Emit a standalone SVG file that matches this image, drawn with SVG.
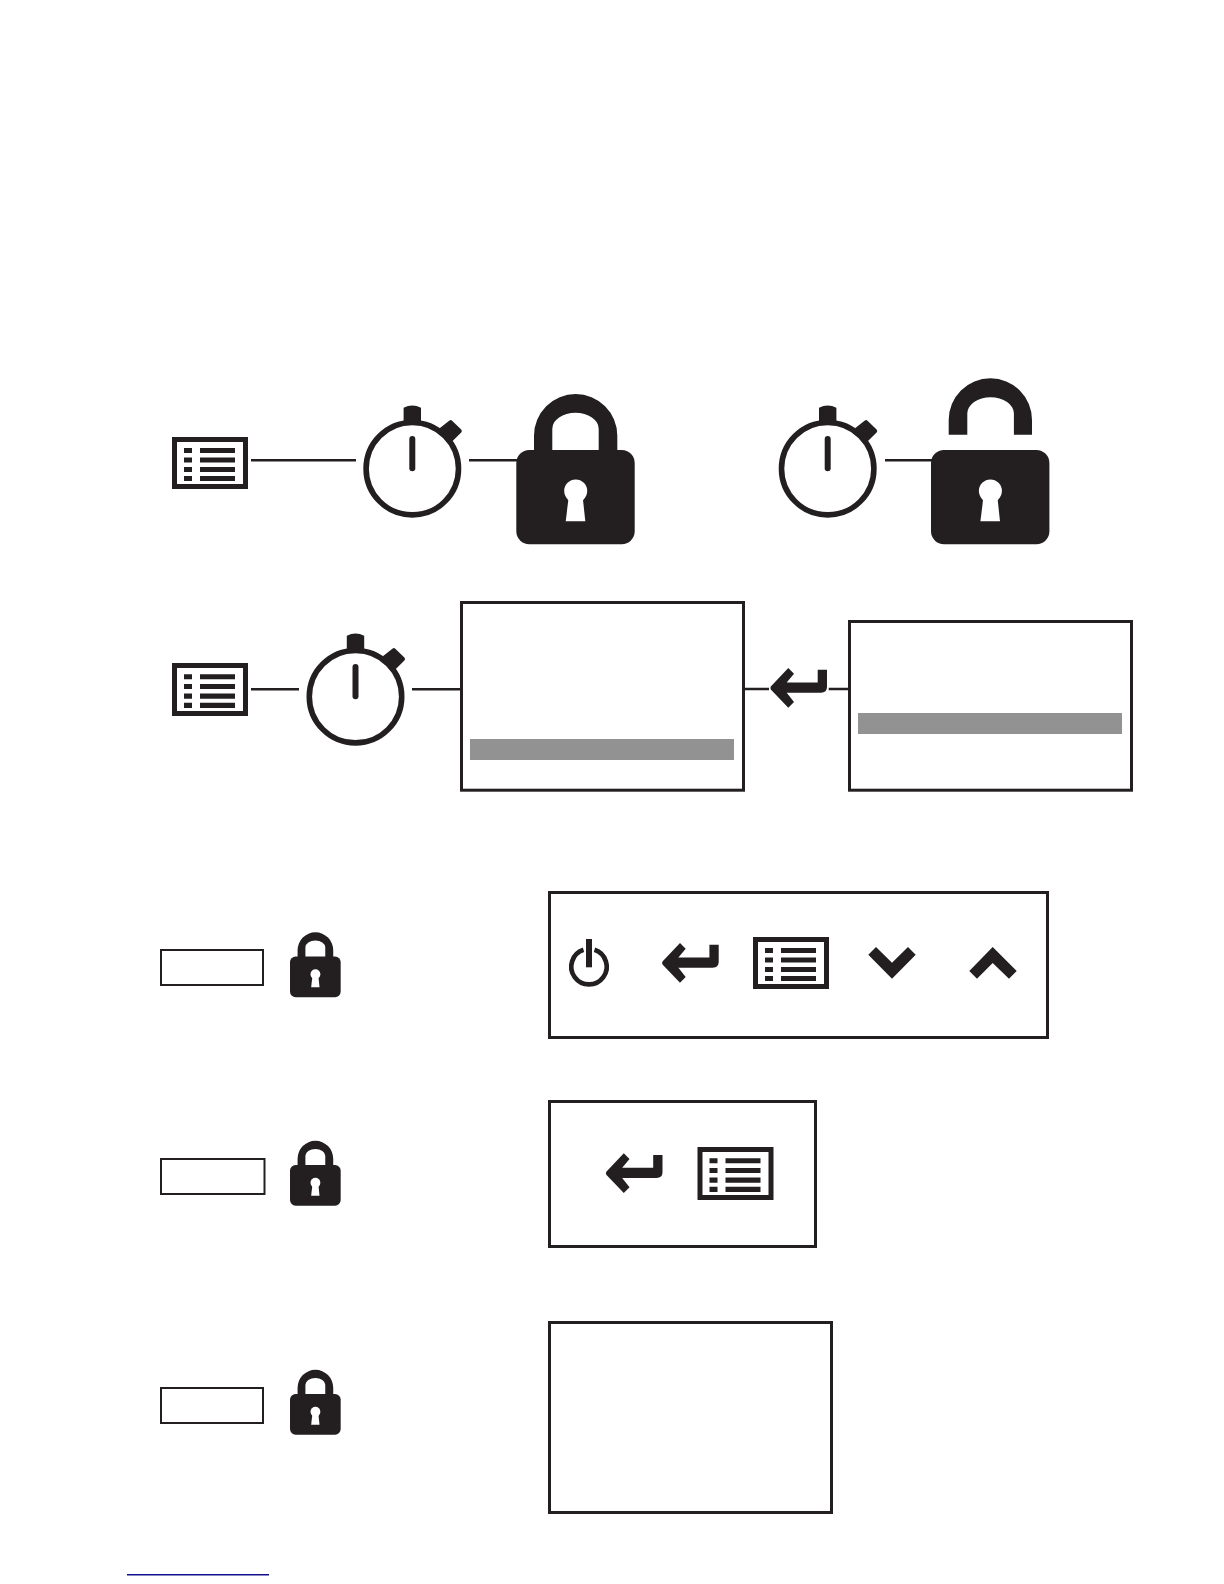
<svg xmlns="http://www.w3.org/2000/svg" xmlns:xlink="http://www.w3.org/1999/xlink" width="1224" height="1584" viewBox="0 0 1224 1584">
<style>
.k{fill:#231f20}
.box{fill:none;stroke:#231f20;stroke-width:3}
.sbox{fill:none;stroke:#231f20;stroke-width:2}
.bar{fill:#929292}
.cn{stroke:#231f20;stroke-width:2.6;fill:none}
</style>
<defs>
<g id="menu-icon">
<path class="k" fill-rule="evenodd" d="M0 0H76V52H0ZM5 5V47H71V5Z"/>
<path class="k" d="M12 11h8v5h-8zM28 11h35v5H28zM12 20.5h8v5h-8zM28 20.5h35v5H28zM12 30h8v5h-8zM28 30h35v5H28zM12 39h8v5h-8zM28 39h35v5H28z"/>
</g>
<g id="stopwatch">
<circle r="46.2" fill="none" stroke="#231f20" stroke-width="5.6"/>
<path class="k" d="M-8.7 -45V-61Q0 -65.5 8.7 -61V-45Z"/>
<path class="k" stroke="#231f20" stroke-width="4" stroke-linejoin="round" d="M38.4 -46.5L47.5 -37.7L39.4 -29.7L29.5 -39.7Z"/>
<path fill="none" stroke="#231f20" stroke-width="6" stroke-linecap="round" d="M0 -29.7V-0.4"/>
</g>
<g id="lock-body">
<rect class="k" width="118.4" height="94.3" rx="13"/>
<circle cx="59.4" cy="41" r="11.5" fill="#fff"/>
<path fill="#fff" d="M52.4 47H66.4L69 71.3H49.4Z"/>
</g>
<g id="lock-closed">
<path class="k" d="M17.7 5V-14.3A41.65 41.65 0 0 1 101 -14.3V5H82.4V-21.3A23.2 16 0 0 0 36 -21.3V5Z"/>
<use xlink:href="#lock-body" href="#lock-body"/>
</g>
<g id="lock-open">
<path class="k" d="M17.7 -15.3V-30A41.65 41.65 0 0 1 101 -30V-15.3H82.9V-36.7A23.3 16 0 0 0 36.3 -36.7V-15.3Z"/>
<use xlink:href="#lock-body" href="#lock-body"/>
</g>
<path id="enter" class="k" d="M0.8 -1.5L18.3 -20L24 -14.3L16.7 -5.6H47.7V-18.3H57V-1Q57 4.7 51 4.7H16.7L24 14L18.3 19.7L0.8 1.5Q0 0 0.8 -1.5Z"/>
</defs>
<rect width="1224" height="1584" fill="#fff"/>
<g id="connectors">
<path class="cn" d="M251 460.3H356M469 460.3H517M885 460.3H933M251 689.3H299M412 689.3H461M745 689H769M828.7 689H848"/>
</g>
<g id="menu-1"><use href="#menu-icon" transform="translate(172 437)"/></g>
<g id="timer-1"><use href="#stopwatch" transform="translate(412.3 468.7)"/></g>
<g id="lock-big-closed"><use href="#lock-closed" transform="translate(516.3 450)"/></g>
<g id="timer-2"><use href="#stopwatch" transform="translate(827.7 468.7)"/></g>
<g id="lock-big-open"><use href="#lock-open" transform="translate(931 450)"/></g>
<g id="menu-2"><use href="#menu-icon" transform="translate(172 663) scale(1 1.02)"/></g>
<g id="timer-3"><use href="#stopwatch" transform="translate(355.5 696.7)"/></g>
<g id="screen-1">
<rect class="box" x="461.5" y="602.5" width="282" height="187.7"/>
<rect class="bar" x="470" y="739" width="264" height="21"/>
</g>
<g id="enter-1"><use href="#enter" transform="translate(770 688)"/></g>
<g id="screen-2">
<rect class="box" x="849.5" y="621.5" width="282" height="168.7"/>
<rect class="bar" x="858" y="713" width="264" height="21"/>
</g>
<g id="label-1"><rect class="sbox" x="161" y="950" width="102" height="35"/></g>
<g id="lock-small-1"><use href="#lock-closed" transform="translate(290 956.5) scale(.428 .432)"/></g>
<g id="panel-1">
<rect class="box" x="549.5" y="892.5" width="498" height="145"/>
<g id="power">
<path fill="none" stroke="#231f20" stroke-width="4.7" d="M583.5 949.8A17.7 17.7 0 1 0 594.5 949.8"/>
<rect class="k" x="586" y="939" width="6" height="28.3"/>
</g>
<use href="#enter" transform="translate(661.7 963)"/>
<use href="#menu-icon" transform="translate(753 937)"/>
<path id="down" class="k" d="M868.3 954.7L876 947L892 962.7L908 947L915.7 954.7L892 978.7Z"/>
<path id="up" class="k" d="M969.3 971L992.7 947L1016.7 971L1009 978.7L992.7 963L977 978.7Z"/>
</g>
<g id="label-2"><rect class="sbox" x="161" y="1159" width="103.5" height="35"/></g>
<g id="lock-small-2"><use href="#lock-closed" transform="translate(290 1165) scale(.428 .432)"/></g>
<g id="panel-2">
<rect class="box" x="549.5" y="1101.5" width="266" height="145"/>
<use href="#enter" transform="translate(605.5 1173.3)"/>
<use href="#menu-icon" transform="translate(697.5 1147) scale(1 1.02)"/>
</g>
<g id="label-3"><rect class="sbox" x="161" y="1388" width="102" height="35"/></g>
<g id="lock-small-3"><use href="#lock-closed" transform="translate(290 1394) scale(.428 .432)"/></g>
<g id="panel-3"><rect class="box" x="549.5" y="1322.5" width="282" height="190"/></g>
<rect id="rule" x="127" y="1574" width="142" height="1.5" fill="#10108c"/>
</svg>
